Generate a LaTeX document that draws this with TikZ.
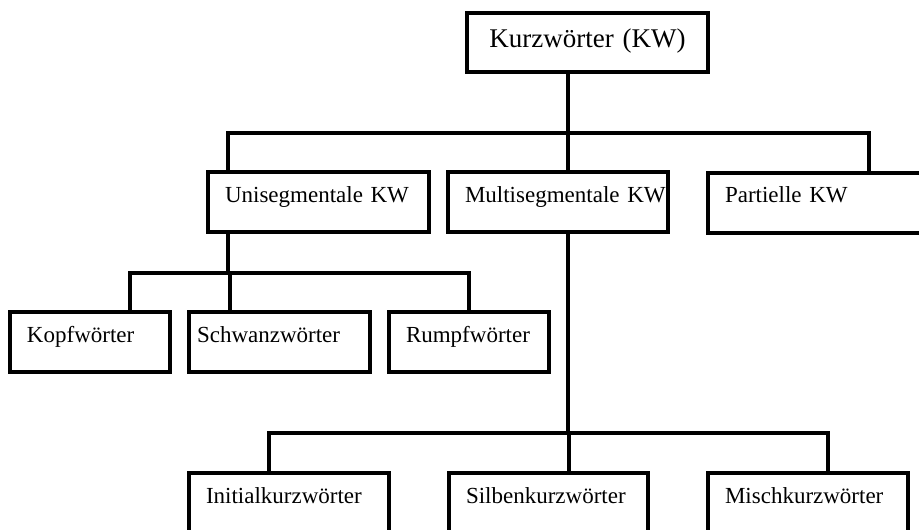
\documentclass[tikz,border=0pt]{standalone}
\usepackage{fontspec}
\setmainfont{Liberation Serif}
\usetikzlibrary{calc}

\begin{document}
\begin{tikzpicture}[x=1pt,y=-1pt]
\tikzstyle{every node}+=[font=\fontsize{23}{27}\selectfont]
\tikzstyle{box}=[draw=black, line width=4pt, rectangle, inner xsep=17pt, inner ysep=0pt, minimum height=60pt, text height=8pt, text depth=8pt, align=left]
\tikzstyle{link}=[draw=black, line width=4pt]
\useasboundingbox (0,0) rectangle (919,530);
\node [box, text width=207pt, align=center, minimum height=59pt, text height=17pt, font=\fontsize{27}{32}\selectfont] (kw) at (587.5,42.5) {Kurzwörter (KW)};
\node [box, text width=187pt] (uni) at (318.5,202) {Unisegmentale KW};
\node [box, text width=186pt] (multi) at (558,202) {Multisegmentale~KW};
\node [box, text width=186pt] (part) at (818,202.5) {Partielle KW};
\node [box, text width=126pt] (kopf) at (90,342) {Kopfwörter};
\node [box, text width=165pt, inner xsep=8pt] (schwanz) at (279.5,342) {Schwanzwörter};
\node [box, text width=126pt] (rumpf) at (469,342) {Rumpfwörter};
\node [box, text width=166pt] (init) at (289,503) {Initialkurzwörter};
\node [box, text width=165pt] (silben) at (548.5,503) {Silbenkurzwörter};
\node [box, text width=166pt] (misch) at (808,503) {Mischkurzwörter};
\coordinate (kw-out) at ([xshift=-19.5pt]kw.south);
\coordinate (uni-in) at ([xshift=21.5pt]uni.north west);
\coordinate (multi-in) at ([xshift=10pt]multi.north);
\coordinate (part-in) at ([xshift=51pt]part.north);
\coordinate (kopf-in) at ([xshift=40pt]kopf.north);
\coordinate (schwanz-in) at ([xshift=-50pt]schwanz.north);
\coordinate (rumpf-in) at (rumpf.north);
\coordinate (init-in) at ([xshift=-20pt]init.north);
\coordinate (silben-in) at ([xshift=20pt]silben.north);
\coordinate (misch-in) at ([xshift=20pt]misch.north);
\coordinate (bus1) at (0,133);
\coordinate (bus2) at (0,273);
\coordinate (bus3) at (0,433);
\draw [link] (kw-out) -- (kw-out |- bus1);
\draw [link] (uni-in) |- (part-in |- bus1) -- (part-in);
\draw [link] (multi-in) -- (multi-in |- bus1);
\draw [link] (uni.south -| uni-in) -- (uni-in |- bus2);
\draw [link] (kopf-in) |- (rumpf-in |- bus2) -- (rumpf-in);
\draw [link] (schwanz-in) -- (schwanz-in |- bus2);
\draw [link] (multi.south -| multi-in) -- (multi-in |- bus3);
\draw [link] (init-in) |- (misch-in |- bus3) -- (misch-in);
\draw [link] (silben-in) -- (silben-in |- bus3);
\end{tikzpicture}
\end{document}
